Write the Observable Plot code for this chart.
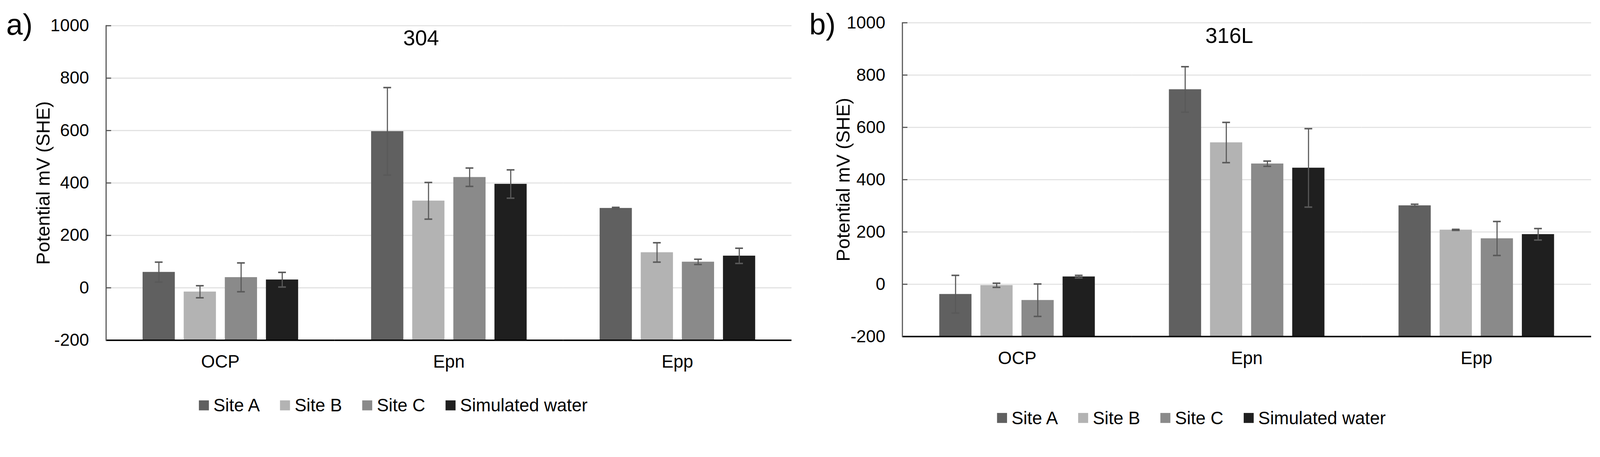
<!DOCTYPE html>
<html><head><meta charset="utf-8">
<script src="https://cdn.jsdelivr.net/npm/d3@7"></script>
<script src="https://cdn.jsdelivr.net/npm/@observablehq/plot@0.6"></script>
<style>
html,body{margin:0;padding:0;background:#fff;overflow:hidden;}
#page{width:4320px;height:1171px;position:absolute;left:0;top:0;overflow:hidden;transform-origin:0 0;font-family:"Liberation Sans",Arial,sans-serif;background:#fff;}
.panel{position:absolute;top:0;}
.lbl{position:absolute;white-space:nowrap;color:#000;line-height:1;font-family:"Liberation Sans",Arial,sans-serif;}
.lg{position:absolute;width:1400px;}
.lg > div{font-family:"Liberation Sans",Arial,sans-serif !important;font-size:48px !important;color:#000 !important;margin:0 !important;}
.lg span{margin-right:55px !important;}
.lg svg{margin-right:12px !important;}
</style></head><body>
<div id="page"></div>
<script>
// ---------- data ----------
const categories = ["OCP", "Epn", "Epp"];
const sites = ["Site A", "Site B", "Site C", "Simulated water"];
const siteColors = ["#606060", "#b3b3b3", "#8a8a8a", "#1f1f1f"];
const yTicks = [-200, 0, 200, 400, 600, 800, 1000];
const yLabel = "Potential mV (SHE)";

// panel a) 304 : values per category [OCP, Epn, Epp]
const siteA_304 = [60, 597, 304];
const siteB_304 = [-15, 332, 135];
const siteC_304 = [40, 422, 99];
const water_304 = [31, 396, 122];
const siteA_304_err = [38, 167, 3];
const siteB_304_err = [23, 70, 37];
const siteC_304_err = [55, 35, 10];
const water_304_err = [28, 54, 29];

// panel b) 316L
const siteA_316 = [-38, 745, 301];
const siteB_316 = [-4, 542, 208];
const siteC_316 = [-61, 461, 175];
const water_316 = [29, 445, 191];
const siteA_316_err = [72, 87, 5];
const siteB_316_err = [8, 77, 2];
const siteC_316_err = [62, 10, 65];
const water_316_err = [5, 150, 22];

function buildRows(series, errs) {
  const rows = [];
  categories.forEach((c, ci) => sites.forEach((s, si) =>
    rows.push({category: c, site: s, value: series[si][ci], err: errs[si][ci]})));
  return rows;
}

const rows304 = buildRows([siteA_304, siteB_304, siteC_304, water_304],
                          [siteA_304_err, siteB_304_err, siteC_304_err, water_304_err]);
const rows316 = buildRows([siteA_316, siteB_316, siteC_316, water_316],
                          [siteA_316_err, siteB_316_err, siteC_316_err, water_316_err]);

const FONT = "Liberation Sans, Arial, sans-serif";
const page = document.getElementById("page");

function makePanel(rows, m) {
  const grid = yTicks.filter(t => t > yTicks[0]);
  return Plot.plot({
    width: m.width, height: m.height,
    marginTop: m.top, marginBottom: m.bottom, marginLeft: m.left, marginRight: m.right,
    style: {fontFamily: FONT, background: "white", color: "black", overflow: "visible"},
    fx: {domain: categories, padding: 0, label: null},
    x: {domain: sites, paddingInner: 0.22, paddingOuter: 0.88, axis: null},
    y: {domain: [yTicks[0], yTicks[yTicks.length - 1]], label: null},
    color: {domain: sites, range: siteColors},
    marks: [
      Plot.gridY(grid, {stroke: "#e2e2e2", strokeOpacity: 1, strokeWidth: 3}),
      Plot.barY(rows, {fx: "category", x: "site", y1: yTicks[0], y2: "value", fill: "site"}),
      Plot.ruleX(rows, {fx: "category", x: "site", y1: d => d.value - d.err, y2: d => d.value + d.err,
        stroke: "#595959", strokeWidth: 3}),
      Plot.tickY(rows, {fx: "category", x: "site", y: d => d.value + d.err,
        stroke: "#595959", strokeWidth: 4, insetLeft: 33, insetRight: 33}),
      Plot.tickY(rows, {fx: "category", x: "site", y: d => d.value - d.err,
        stroke: "#595959", strokeWidth: 4, insetLeft: 33, insetRight: 33}),
      Plot.ruleY([yTicks[0]], {stroke: "#000", strokeWidth: 4}),
      Plot.frame({anchor: "left", facet: "super", stroke: "#555", strokeWidth: 3}),
      Plot.axisY({ticks: grid, tickSize: 14, dx: 14, tickFormat: () => "", label: null,
        stroke: "#555", strokeWidth: 3}),
      Plot.axisY({ticks: yTicks, tickSize: 0, tickPadding: 46, fontSize: 47, label: null,
        tickFormat: d => String(d), fill: "#000"}),
      Plot.axisY({ticks: [], tickSize: 0, label: yLabel, labelAnchor: "center", labelArrow: "none",
        labelOffset: m.labelOffset, fontSize: 51, fill: "#000"}),
      Plot.axisFx({anchor: "bottom", tickSize: 0, tickPadding: 40, fontSize: 48, label: null, fill: "#000"})
    ]
  });
}

function addPanel(rows, m, left) {
  const div = document.createElement("div");
  div.className = "panel";
  div.style.left = left + "px";
  div.appendChild(makePanel(rows, m));
  page.appendChild(div);
}

function addLabel(text, size, left, baseline, center) {
  const d = document.createElement("div");
  d.className = "lbl";
  d.textContent = text;
  d.style.fontSize = size + "px";
  d.style.left = left + "px";
  d.style.top = (baseline - 0.8465 * size) + "px";
  if (center) d.style.transform = "translateX(-50%)";
  page.appendChild(d);
}

function addLegend(left, top) {
  const d = document.createElement("div");
  d.className = "lg";
  d.style.left = left + "px";
  d.style.top = top + "px";
  d.appendChild(Plot.legend({color: {type: "ordinal", domain: sites, range: siteColors},
    swatchSize: 27, className: "lgd"}));
  page.appendChild(d);
}

addPanel(rows304, {width: 2160, height: 1010, top: 69, bottom: 91, left: 286, right: 23, labelOffset: 189}, 0);
addPanel(rows316, {width: 2160, height: 1000, top: 61, bottom: 91, left: 276, right: 24, labelOffset: 179}, 2160);

addLabel("a)", 80, 17, 95, false);
addLabel("b)", 80, 2185, 94, false);
addLabel("304", 58, 1137, 122, true);
addLabel("316L", 58, 3319, 116, true);

addLegend(537, 1068);
addLegend(2692, 1102);

function fit() {
  const s = Math.min(window.innerWidth / 4320, window.innerHeight / 1171);
  page.style.transform = "scale(" + s + ")";
}
fit();
window.addEventListener("resize", fit);
</script>
</body></html>
